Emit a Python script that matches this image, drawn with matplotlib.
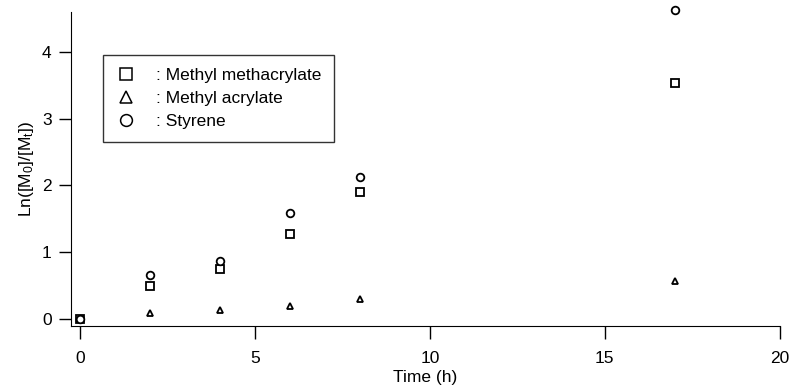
import matplotlib
matplotlib.use('Agg')
import matplotlib.pyplot as plt
from matplotlib.lines import Line2D

plt.rcParams['font.family'] = ['Liberation Sans', 'DejaVu Sans']
plt.rcParams['mathtext.default'] = 'regular'

# Data
time_h = [0, 2, 4, 6, 8, 17]
mma = [0.0, 0.49, 0.75, 1.28, 1.90, 3.54]
ma = [0.0, 0.09, 0.13, 0.19, 0.30, 0.57]
styrene = [0.0, 0.66, 0.87, 1.59, 2.13, 4.63]

labels = [': Methyl methacrylate', ': Methyl acrylate', ': Styrene']
markers = ['s', '^', 'o']

fig = plt.figure(figsize=(7.92, 3.88), dpi=100)
ax = fig.add_axes([0.0896, 0.160, 0.895, 0.809])

for ys, m, ms in zip([mma, ma, styrene], markers, [6, 5, 5.5]):
    ax.plot(time_h, ys, linestyle='none', marker=m, markersize=ms,
            markerfacecolor='white', markeredgecolor='black',
            markeredgewidth=1.3, clip_on=False)

ax.set_xlim(-0.26, 20)
ax.set_ylim(-0.105, 4.6)
ax.set_xticks([0, 5, 10, 15, 20])
ax.set_yticks([0, 1, 2, 3, 4])
ax.tick_params(direction='out', length=9, width=1, labelsize=12.5)
ax.tick_params(axis='x', pad=9)
ax.tick_params(axis='y', pad=5)
ax.spines['top'].set_visible(False)
ax.spines['right'].set_visible(False)

ax.set_xlabel('Time (h)', fontsize=12.5, labelpad=3)
ax.set_ylabel('Ln([M$_0$]/[M$_t$])', fontsize=12.5, labelpad=4)

# legend box drawn like the original: marker, then ": name"
handles = [Line2D([], [], linestyle='none', marker=m, markersize=8.5,
                  markerfacecolor='white', markeredgecolor='black',
                  markeredgewidth=1.1) for m in markers]
leg = ax.legend(handles, labels, loc='upper left', bbox_to_anchor=(0.045, 0.863),
                borderaxespad=0, fontsize=12.5, frameon=True, fancybox=False,
                edgecolor='black', handlelength=1.2, handletextpad=1.1,
                labelspacing=0.45, borderpad=0.75)
leg.get_frame().set_linewidth(1.0)

fig.savefig('out.png', dpi=100)
